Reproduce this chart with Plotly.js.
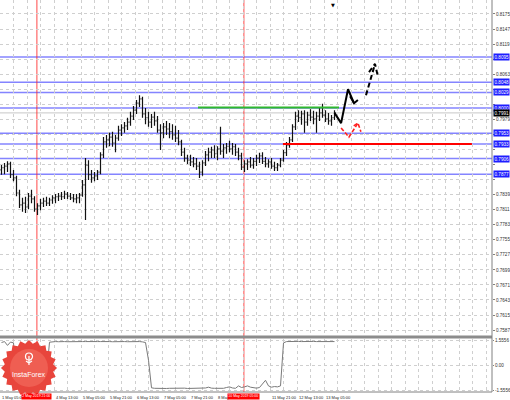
<!DOCTYPE html>
<html><head><meta charset="utf-8">
<script src="https://cdn.plot.ly/plotly-3.0.1.min.js"></script>
<style>html,body{margin:0;padding:0;background:#fff;}#chart{width:510px;height:400px;}</style>
</head><body><div id="chart"></div>
<script>
// ---- data ----
const openP=[0.7885,0.7889,0.7892,0.7896,0.7876,0.7870,0.7842,0.7820,0.7823,0.7816,
0.7836,0.7831,0.7812,0.7818,0.7823,0.7827,0.7823,0.7829,0.7833,0.7835,
0.7836,0.7835,0.7840,0.7836,0.7833,0.7831,0.7833,0.7838,0.7857,0.7894,
0.7876,0.7870,0.7874,0.7881,0.7913,0.7937,0.7941,0.7946,0.7935,0.7944,
0.7959,0.7963,0.7967,0.7974,0.7985,0.7996,0.8009,0.8017,0.7989,0.7982,
0.7974,0.7983,0.7976,0.7959,0.7954,0.7965,0.7961,0.7956,0.7950,0.7944,
0.7937,0.7918,0.7907,0.7903,0.7900,0.7896,0.7892,0.7881,0.7898,0.7913,
0.7918,0.7922,0.7915,0.7924,0.7920,0.7926,0.7929,0.7924,0.7928,0.7918,
0.7911,0.7890,0.7896,0.7900,0.7894,0.7901,0.7907,0.7911,0.7901,0.7896,
0.7900,0.7892,0.7889,0.7894,0.7903,0.7917,0.7931,0.7941,0.7965,0.7985,
0.7982,0.7989,0.7974,0.7987,0.7983,0.7980,0.7985,0.7991,0.7987,0.7980,
0.7976,0.7982];
const highP=[0.7894,0.7898,0.7901,0.7900,0.7885,0.7874,0.7848,0.7833,0.7835,0.7842,
0.7848,0.7836,0.7823,0.7831,0.7833,0.7835,0.7833,0.7838,0.7840,0.7842,
0.7844,0.7846,0.7844,0.7842,0.7840,0.7840,0.7842,0.7866,0.7907,0.7903,
0.7885,0.7881,0.7885,0.7918,0.7946,0.7950,0.7954,0.7956,0.7950,0.7967,
0.7970,0.7974,0.7982,0.7993,0.8004,0.8015,0.8024,0.8021,0.8000,0.7993,
0.7989,0.7993,0.7985,0.7970,0.7972,0.7976,0.7972,0.7970,0.7967,0.7959,
0.7941,0.7926,0.7913,0.7913,0.7909,0.7907,0.7900,0.7903,0.7920,0.7926,
0.7928,0.7931,0.7929,0.7965,0.7933,0.7935,0.7939,0.7935,0.7933,0.7926,
0.7917,0.7903,0.7905,0.7909,0.7907,0.7913,0.7917,0.7918,0.7909,0.7905,
0.7907,0.7900,0.7898,0.7907,0.7922,0.7937,0.7946,0.7970,0.7993,0.7996,
0.7995,0.7996,0.7993,0.7998,0.7995,0.7993,0.8000,0.8008,0.7996,0.7991,
0.7987,0.7996];
const lowP=[0.7876,0.7877,0.7881,0.7870,0.7864,0.7836,0.7814,0.7807,0.7805,0.7812,
0.7823,0.7807,0.7801,0.7810,0.7816,0.7818,0.7818,0.7822,0.7823,0.7827,
0.7829,0.7831,0.7831,0.7829,0.7825,0.7823,0.7823,0.7835,0.7792,0.7866,
0.7861,0.7864,0.7866,0.7877,0.7907,0.7926,0.7929,0.7928,0.7918,0.7939,
0.7948,0.7954,0.7959,0.7967,0.7978,0.7989,0.8002,0.7982,0.7970,0.7965,
0.7963,0.7967,0.7954,0.7922,0.7944,0.7950,0.7944,0.7941,0.7937,0.7931,
0.7911,0.7900,0.7896,0.7892,0.7890,0.7885,0.7870,0.7874,0.7892,0.7901,
0.7907,0.7907,0.7903,0.7913,0.7907,0.7915,0.7918,0.7913,0.7911,0.7903,
0.7885,0.7881,0.7885,0.7889,0.7887,0.7892,0.7898,0.7896,0.7890,0.7889,
0.7887,0.7883,0.7883,0.7890,0.7900,0.7911,0.7926,0.7937,0.7959,0.7974,
0.7969,0.7954,0.7967,0.7976,0.7970,0.7954,0.7976,0.7982,0.7974,0.7969,
0.7967,0.7978];
const closeP=[0.7889,0.7892,0.7896,0.7876,0.7870,0.7842,0.7820,0.7823,0.7816,0.7836,
0.7831,0.7812,0.7818,0.7823,0.7827,0.7823,0.7829,0.7833,0.7835,0.7836,
0.7835,0.7840,0.7836,0.7833,0.7831,0.7833,0.7838,0.7857,0.7894,0.7876,
0.7870,0.7874,0.7881,0.7913,0.7937,0.7941,0.7946,0.7935,0.7944,0.7959,
0.7963,0.7967,0.7974,0.7985,0.7996,0.8009,0.8017,0.7989,0.7982,0.7974,
0.7983,0.7976,0.7959,0.7954,0.7965,0.7961,0.7956,0.7950,0.7944,0.7937,
0.7918,0.7907,0.7903,0.7900,0.7896,0.7892,0.7881,0.7898,0.7913,0.7918,
0.7922,0.7915,0.7924,0.7920,0.7926,0.7929,0.7924,0.7928,0.7918,0.7911,
0.7890,0.7896,0.7900,0.7894,0.7901,0.7907,0.7911,0.7901,0.7896,0.7900,
0.7892,0.7889,0.7894,0.7903,0.7917,0.7931,0.7941,0.7965,0.7985,0.7982,
0.7989,0.7974,0.7987,0.7983,0.7980,0.7985,0.7991,0.7987,0.7980,0.7976,
0.7982,0.7991];
const indicator=[1.40,1.46,1.22,1.43,1.38,
-0.90,
-1.45,-1.48,-1.45,-1.44,-1.47,-1.46,-1.45,-1.44,-1.46,
-0.60,
1.42,1.45,1.46,1.45,1.47,1.46,1.45,1.46,1.47,1.46,
1.45,1.46,1.46,1.47,1.46,1.45,1.46,1.46,1.47,1.46,
1.46,1.45,1.46,1.47,1.46,1.46,1.45,1.46,1.46,1.47,
1.46,1.44,1.40,
0.30,
-1.42,-1.45,-1.46,-1.45,-1.44,-1.46,-1.45,-1.44,-1.46,-1.45,
-1.45,-1.44,-1.46,-1.45,-1.44,-1.45,-1.46,-1.45,-1.43,-1.38,
-1.44,-1.45,-1.46,-1.44,-1.45,-1.40,-1.36,-1.43,-1.45,-1.30,
-1.40,-1.36,-1.30,-1.38,-1.41,-1.44,-1.40,-1.20,-0.95,-1.30,
-1.38,-1.34,-1.36,-1.30,
1.38,1.46,1.47,1.45,1.46,1.47,1.46,1.47,1.45,1.46,
1.47,1.46,1.46,1.47,1.46,1.45,1.46,1.46];
const priceTicks=[0.8175,0.8147,0.8119,0.8091,0.8063,0.8035,0.8007,0.7979,0.7951,0.7923,0.7895,
0.7867,0.7839,0.7811,0.7783,0.7755,0.7727,0.7699,0.7671,0.7643,0.7615,0.7587];
const blueLevels=[0.8095,0.8048,0.8029,0.8000,0.7953,0.7933,0.7906,0.7877];
const greenLevel=0.8001, greenFrom=65.5, greenTo=112.5;
const redLevel=0.7933, redFrom=93.8, redTo=156.8;
const redTimes=[11.8,80.8];
const redTimeLabels=["2 May 2019 21:00","10 May 2019 05:00"];
const timeLabels=["1 May 05:00","","4 May 13:00","5 May 05:00","5 May 21:00","6 May 13:00","7 May 05:00","7 May 21:00","8 May","","11 May 21:00","12 May 13:00","13 May 05:00"];
const indTicks=[1.5556,0,-1.5556], indTickText=["1.5556","0.00","-1.5556"];
// forecast arrows (bar index, price)
const solidX=[111,113.2,115.5,117.5,null,116.2,117.5,118.8];
const solidY=[0.7991,0.7972,0.8035,0.8009,null,0.8022,0.8009,0.8015];
const dashX=[121.5,124.5,null,122.5,124.5,125.5];
const dashY=[0.8024,0.8082,null,0.8067,0.8082,0.8058];
const redX=[113.2,115.8,118.8,null,117.4,118.8,119.8];
const redY=[0.7963,0.7946,0.7972,null,0.7967,0.7972,0.7956];

// ---- geometry ----
const W=510,H=400,MR=18,MB=8,PW=W-MR,PH=H-MB;
const mainDom=[(PH-336)/PH,1], indDom=[0,(PH-339)/PH];
const barX=closeP.map((_,i)=>i);
const pxToIdx=p=>(p-1.5)/3;
const xRange=[pxToIdx(0),pxToIdx(PW)];
const gridX=[]; for(let k=0;k<=37;k++) gridX.push(pxToIdx(13.5*k));
const last=closeP[closeP.length-1];
const FONT="Liberation Sans";
const LBL=4.6;
const yRange=[0.7576,0.8201];
const pricePerPx=(yRange[1]-yRange[0])/336;
const labelled=blueLevels.concat([last]);
const tickText=priceTicks.map(v=>labelled.some(b=>Math.abs(b-v)<6*pricePerPx)?'':v.toFixed(4));

const traces=[
 {type:'ohlc',x:barX,open:openP,high:highP,low:lowP,close:closeP,xaxis:'x',yaxis:'y',
  increasing:{line:{color:'#111',width:1.2}},decreasing:{line:{color:'#111',width:1.2}},
  tickwidth:0.35,hoverinfo:'skip',showlegend:false},
 {type:'scatter',mode:'lines',x:barX,y:indicator,xaxis:'x2',yaxis:'y2',line:{color:'#7a7a7a',width:1},hoverinfo:'skip',showlegend:false},
 {type:'scatter',mode:'lines',x:solidX,y:solidY,xaxis:'x',yaxis:'y',line:{color:'#000',width:2},connectgaps:false,showlegend:false,hoverinfo:'skip'},
 {type:'scatter',mode:'lines',x:dashX,y:dashY,xaxis:'x',yaxis:'y',line:{color:'#000',width:2,dash:'5px,3px'},connectgaps:false,showlegend:false,hoverinfo:'skip'},
 {type:'scatter',mode:'lines',x:redX,y:redY,xaxis:'x',yaxis:'y',line:{color:'#ff2020',width:1.6,dash:'4px,2px'},connectgaps:false,showlegend:false,hoverinfo:'skip'}
];

const shapes=[];
blueLevels.forEach(v=>shapes.push({type:'line',xref:'paper',x0:0,x1:1,yref:'y',y0:v,y1:v,line:{color:'rgba(110,110,255,0.85)',width:1.5},layer:'between'}));
shapes.push({type:'line',xref:'paper',x0:0,x1:1,yref:'y',y0:last,y1:last,line:{color:'#c8c8c8',width:1},layer:'between'});
redTimes.forEach(t=>shapes.push({type:'line',xref:'x',x0:t,x1:t,yref:'paper',y0:0,y1:1,line:{color:'rgba(255,40,40,0.85)',width:1},layer:'between'}));
shapes.push({type:'line',xref:'x',x0:greenFrom,x1:greenTo,yref:'y',y0:greenLevel,y1:greenLevel,line:{color:'#2eb82e',width:1.8},layer:'above'});
shapes.push({type:'line',xref:'x',x0:redFrom,x1:redTo,yref:'y',y0:redLevel,y1:redLevel,line:{color:'#ff0000',width:2},layer:'above'});
shapes.push({type:'line',xref:'paper',x0:0,x1:1,yref:'paper',y0:(PH-337)/PH,y1:(PH-337)/PH,line:{color:'#8c8c8c',width:3},layer:'above'});
shapes.push({type:'line',xref:'paper',x0:1,x1:1,yref:'paper',y0:0,y1:1,line:{color:'#808080',width:1},layer:'above'});
shapes.push({type:'line',xref:'paper',x0:0,x1:1,yref:'paper',y0:0,y1:0,line:{color:'#808080',width:1},layer:'above'});
// logo starburst
const lx=29,ly=368,Ro=28,Ri=24.5,sp=20;
const P=(x,y)=>(x/PW).toFixed(4)+','+((PH-y)/PH).toFixed(4);
let d='';
for(let k=0;k<sp*2;k++){const r=k%2?Ri:Ro;const a=Math.PI*k/sp;d+=(k?'L':'M')+P(lx+r*Math.cos(a),ly+r*Math.sin(a));}
d+='Z';
shapes.push({type:'path',xref:'paper',yref:'paper',path:d,fillcolor:'#e8453c',line:{width:0},layer:'above'});
shapes.push({type:'circle',xref:'paper',yref:'paper',x0:(lx-19)/PW,x1:(lx+19)/PW,y0:(PH-(ly+19))/PH,y1:(PH-(ly-19))/PH,fillcolor:'#ef5e52',line:{width:0},layer:'above'});
shapes.push({type:'circle',xref:'paper',yref:'paper',x0:(lx-3.5)/PW,x1:(lx+3.5)/PW,y0:(PH-360)/PH,y1:(PH-353)/PH,line:{color:'#fff',width:1.2},layer:'above'});
shapes.push({type:'path',xref:'paper',yref:'paper',path:'M'+P(lx,356)+'L'+P(lx,365)+'M'+P(lx-3,361)+'L'+P(lx,363)+'L'+P(lx+3,361),line:{color:'#fff',width:1.2},layer:'above'});

const ann=[];
blueLevels.forEach(v=>ann.push({xref:'paper',x:1,xanchor:'left',xshift:1,yref:'y',y:v,yanchor:'middle',text:v.toFixed(4),showarrow:false,bgcolor:'#1e1eff',borderpad:0.5,font:{family:FONT,size:LBL,color:'#fff'}}));
ann.push({xref:'paper',x:1,xanchor:'left',xshift:1,yref:'y',y:last,yanchor:'middle',text:last.toFixed(4),showarrow:false,bgcolor:'#000',borderpad:0.5,font:{family:FONT,size:LBL,color:'#fff'}});
timeLabels.forEach((t,k)=>{if(t)ann.push({xref:'x',x:pxToIdx(27*k),xanchor:'left',yref:'paper',y:0,yanchor:'top',yshift:-0.5,text:t,showarrow:false,font:{family:FONT,size:4,color:'#222'}});});
redTimes.forEach((t,k)=>ann.push({xref:'x',x:t,xanchor:'center',yref:'paper',y:0,yanchor:'top',yshift:-0.5,text:redTimeLabels[k],showarrow:false,bgcolor:'#ff0000',borderpad:0.3,font:{family:FONT,size:3.5,color:'#fff'}}));
ann.push({xref:'paper',x:lx/PW,xanchor:'center',yref:'paper',y:(PH-374)/PH,yanchor:'middle',text:'InstaForex',showarrow:false,font:{family:FONT,size:7,color:'#fff'}});
ann.push({xref:'x',x:110.5,xanchor:'center',yref:'paper',y:1,yanchor:'top',text:'▼',showarrow:false,font:{family:'DejaVu Sans',size:5,color:'#000'}});

const axX={range:xRange,showticklabels:false,tickvals:gridX,showgrid:true,gridcolor:'#cfcfcf',griddash:'dot',gridwidth:1,zeroline:false,showline:false,ticks:'',fixedrange:true};
const layout={width:W,height:H,margin:{l:0,r:MR,t:0,b:MB,pad:0},paper_bgcolor:'#fff',plot_bgcolor:'#fff',showlegend:false,
 xaxis:Object.assign({},axX,{anchor:'y',rangeslider:{visible:false}}),
 xaxis2:Object.assign({},axX,{anchor:'y2',matches:'x'}),
 yaxis:{domain:mainDom,range:yRange,side:'right',anchor:'x',tickvals:priceTicks,ticktext:tickText,
  tickfont:{family:FONT,size:LBL,color:'#333'},ticks:'outside',ticklen:2,tickcolor:'#808080',showgrid:true,gridcolor:'#cfcfcf',griddash:'dot',zeroline:false,showline:false},
 yaxis2:{domain:indDom,range:[-1.68,1.62],side:'right',anchor:'x2',tickvals:indTicks,ticktext:indTickText,
  tickfont:{family:FONT,size:LBL,color:'#333'},ticks:'outside',ticklen:1,tickcolor:'#808080',showgrid:true,gridcolor:'#cfcfcf',griddash:'dot',zeroline:false,showline:false},
 shapes:shapes,annotations:ann};
Plotly.newPlot('chart',traces,layout,{staticPlot:true,displayModeBar:false});
</script></body></html>
